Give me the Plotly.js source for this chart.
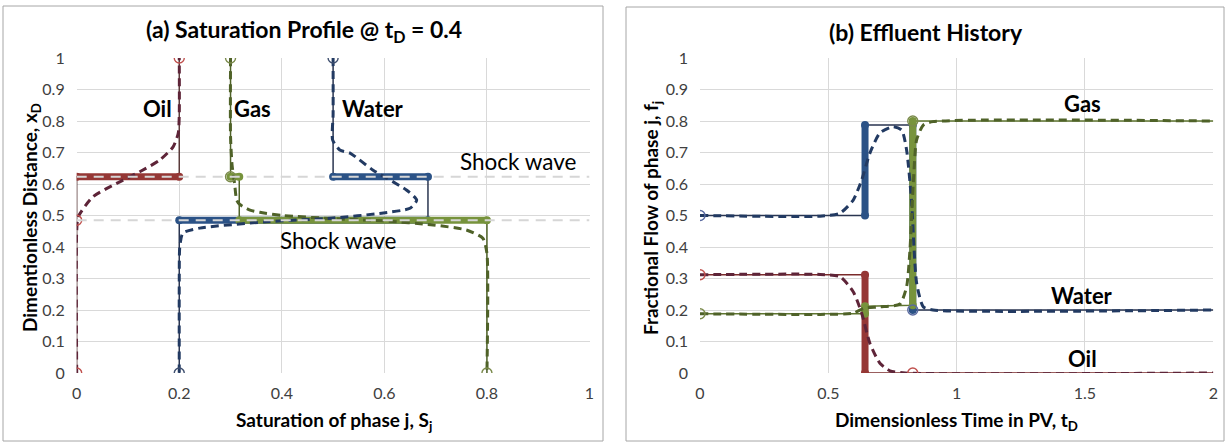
<!DOCTYPE html>
<html><head><meta charset="utf-8">
<script src="https://cdn.plot.ly/plotly-3.0.1.min.js"></script>
<style>html,body{margin:0;padding:0;background:#fff}#c{width:1225px;height:442px}</style>
</head><body><div id="c"></div>
<script>
// ---------- Panel (a): saturation profile, x = saturation S, y = distance xD ----------
var aOilExactS = [0, 0, 0, 0.2, 0.2];
var aOilExactX = [0, 0.485, 0.623, 0.623, 1];
var aOilShockS = [0, 0.2];
var aOilShockX = [0.623, 0.623];
var aOilNumS = [0, 0, 0.003, 0.032, 0.078, 0.123, 0.162, 0.188, 0.198, 0.2, 0.2];
var aOilNumX = [0, 0.45, 0.496, 0.56, 0.602, 0.639, 0.676, 0.718, 0.761, 0.82, 1];
var aOilMarkS = [0, 0, 0.2];
var aOilMarkX = [0, 0.485, 1];

var aGasExactS = [0.3, 0.3, 0.317, 0.317, 0.8, 0.8];
var aGasExactX = [1, 0.623, 0.623, 0.485, 0.485, 0];
var aGasShock1S = [0.3, 0.317];
var aGasShock1X = [0.623, 0.623];
var aGasShock2S = [0.317, 0.8];
var aGasShock2X = [0.485, 0.485];
var aGasNumS = [0.3, 0.3, 0.303, 0.308, 0.312, 0.318, 0.338, 0.357, 0.403, 0.5, 0.6, 0.695, 0.76, 0.792, 0.8, 0.8];
var aGasNumX = [1, 0.75, 0.66, 0.6, 0.549, 0.535, 0.517, 0.51, 0.5, 0.49, 0.483, 0.47, 0.454, 0.428, 0.38, 0];
var aGasMarkS = [0.3, 0.3, 0.8];
var aGasMarkX = [1, 0.623, 0];

var aWatExactS = [0.5, 0.5, 0.685, 0.685, 0.2, 0.2];
var aWatExactX = [1, 0.623, 0.623, 0.485, 0.485, 0];
var aWatShock1S = [0.5, 0.685];
var aWatShock1X = [0.623, 0.623];
var aWatShock2S = [0.2, 0.685];
var aWatShock2X = [0.485, 0.485];
var aWatNumS = [0.5, 0.5, 0.499, 0.513, 0.533, 0.578, 0.643, 0.663, 0.65, 0.598, 0.5, 0.37, 0.24, 0.207, 0.201, 0.2, 0.2];
var aWatNumX = [1, 0.82, 0.74, 0.708, 0.698, 0.644, 0.581, 0.549, 0.523, 0.508, 0.492, 0.48, 0.46, 0.444, 0.4, 0.3, 0];
var aWatMarkS = [0.5, 0.2];
var aWatMarkX = [1, 0];

var aShockLineS = [0, 1];
var aShockHigh = [0.623, 0.623];
var aShockLow = [0.485, 0.485];

// ---------- Panel (b): effluent history, x = tD, y = fractional flow ----------
var bWatExactT = [0, 0.643, 0.643, 0.829, 0.829, 2];
var bWatExactF = [0.5, 0.5, 0.787, 0.787, 0.2, 0.2];
var bWatShock1T = [0.643, 0.643];
var bWatShock1F = [0.5, 0.787];
var bWatShock2T = [0.829, 0.829];
var bWatShock2F = [0.787, 0.2];
var bWatNumT = [0, 0.468, 0.545, 0.597, 0.63, 0.662, 0.701, 0.752, 0.786, 0.805, 0.824, 0.844, 0.87, 0.908, 2];
var bWatNumF = [0.5, 0.498, 0.507, 0.549, 0.613, 0.698, 0.762, 0.782, 0.771, 0.708, 0.549, 0.286, 0.21, 0.2, 0.2];

var bOilExactT = [0, 0.643, 0.643, 2];
var bOilExactF = [0.312, 0.312, 0, 0];
var bOilShockT = [0.643, 0.643];
var bOilShockF = [0.312, 0];
var bOilNumT = [0, 0.468, 0.545, 0.597, 0.63, 0.662, 0.701, 0.74, 0.8, 2];
var bOilNumF = [0.312, 0.313, 0.306, 0.258, 0.19, 0.094, 0.031, 0.007, 0, 0];

var bGasExactT = [0, 0.643, 0.643, 0.829, 0.829, 2];
var bGasExactF = [0.188, 0.188, 0.212, 0.215, 0.8, 0.8];
var bGasShock1T = [0.643, 0.643];
var bGasShock1F = [0.188, 0.212];
var bGasShock2T = [0.829, 0.829];
var bGasShock2F = [0.215, 0.8];
var bGasNumT = [0, 0.468, 0.597, 0.637, 0.7, 0.779, 0.805, 0.818, 0.831, 0.844, 0.87, 0.908, 2];
var bGasNumF = [0.188, 0.186, 0.19, 0.205, 0.21, 0.219, 0.274, 0.39, 0.602, 0.74, 0.787, 0.798, 0.8];

var bMarkOilT = [0, 0.829];
var bMarkOilF = [0.312, 0];
var bMarkWatT = [0, 0.829];
var bMarkWatF = [0.5, 0.2];
var bMarkGasT = [0, 0.829];
var bMarkGasF = [0.188, 0.8];

var xTicksA = [0, 0.2, 0.4, 0.6, 0.8, 1];
var xTicksB = [0, 0.5, 1, 1.5, 2];
var yTicks = [0, 0.1, 0.2, 0.3, 0.4, 0.5, 0.6, 0.7, 0.8, 0.9, 1];

// ---------- styles ----------
var OIL = '#953735', OILD = '#5e2438', OILM = '#c0504d';
var GAS = '#77933c', GASD = '#4f6228', GASM = '#7a8a4b';
var WAT = '#2b5286', WATD = '#223a62', WATM = '#3f4f6f';

function thin(x, y, c, ax) { return {x: x, y: y, mode: 'lines', line: {color: c, width: 1.5}, xaxis: ax[0], yaxis: ax[1], hoverinfo: 'skip'}; }
function thick(x, y, c, ax) { return {x: x, y: y, mode: 'lines+markers', line: {color: c, width: 7}, marker: {size: 8, color: c}, xaxis: ax[0], yaxis: ax[1], hoverinfo: 'skip'}; }
function dash(x, y, c, ax) { return {x: x, y: y, mode: 'lines', line: {color: c, width: 3, dash: '8px,5px', shape: 'spline', smoothing: 0.6}, xaxis: ax[0], yaxis: ax[1], hoverinfo: 'skip'}; }
function marks(x, y, c, ax) { return {x: x, y: y, mode: 'markers', marker: {symbol: 'circle-open', size: 10, color: c, line: {width: 1.4, color: c}}, xaxis: ax[0], yaxis: ax[1], hoverinfo: 'skip'}; }

var A = ['x', 'y'], B = ['x2', 'y2'];
var traces = [
  thin(aOilExactS, aOilExactX, '#5a3a3a', A),
  thin(aGasExactS, aGasExactX, '#4f6228', A),
  thin(aWatExactS, aWatExactX, '#2a3550', A),
  thick(aWatShock2S, aWatShock2X, WAT, A),
  thick(aWatShock1S, aWatShock1X, WAT, A),
  thick(aOilShockS, aOilShockX, OIL, A),
  thick(aGasShock2S, aGasShock2X, GAS, A),
  thick(aGasShock1S, aGasShock1X, GAS, A),
  dash(aOilNumS, aOilNumX, OILD, A),
  dash(aGasNumS, aGasNumX, GASD, A),
  dash(aWatNumS, aWatNumX, WATD, A),
  marks(aOilMarkS, aOilMarkX, OILM, A),
  marks(aGasMarkS, aGasMarkX, GASM, A),
  marks(aWatMarkS, aWatMarkX, WATM, A),
  {x: aShockLineS, y: aShockHigh, mode: 'lines', line: {color: '#d6d6d6', width: 2, dash: '10px,7px'}, xaxis: 'x', yaxis: 'y', hoverinfo: 'skip'},
  {x: aShockLineS, y: aShockLow, mode: 'lines', line: {color: '#d6d6d6', width: 2, dash: '10px,7px'}, xaxis: 'x', yaxis: 'y', hoverinfo: 'skip'},

  thin(bOilExactT, bOilExactF, '#7a2a2a', B),
  thin(bWatExactT, bWatExactF, '#2a3550', B),
  thin(bGasExactT, bGasExactF, '#5f7530', B),
  thick(bWatShock1T, bWatShock1F, WAT, B),
  thick(bWatShock2T, bWatShock2F, WAT, B),
  thick(bOilShockT, bOilShockF, OIL, B),
  thick(bGasShock1T, bGasShock1F, GAS, B),
  thick(bGasShock2T, bGasShock2F, GAS, B),
  dash(bOilNumT, bOilNumF, OILD, B),
  dash(bWatNumT, bWatNumF, WATD, B),
  dash(bGasNumT, bGasNumF, GASD, B),
  marks(bMarkOilT, bMarkOilF, OILM, B),
  marks(bMarkWatT, bMarkWatF, '#5a6aa0', B),
  marks(bMarkGasT, bMarkGasF, GASM, B)
];

var W = 1225, H = 442;
function px(v) { return v / W; }
function py(v) { return 1 - v / H; }
var FONT = 'Lato, "Open Sans", sans-serif';
var tickFont = {family: FONT, size: 16, color: '#404040'};

function xax(dom, ticks, rng, anchor) {
  return {domain: dom, range: rng, tickvals: ticks, ticktext: ticks.map(String), showgrid: true, gridcolor: '#d9d9d9', gridwidth: 1,
          zeroline: false, showline: false, ticks: '', tickfont: tickFont, ticklabelstandoff: 9, anchor: anchor, fixedrange: true};
}
function yax(ticks, anchor) {
  return {domain: [py(373), py(58)], range: [0, 1], tickvals: ticks, ticktext: ticks.map(String), showgrid: true, gridcolor: '#d9d9d9', gridwidth: 1,
          zeroline: false, showline: false, ticks: '', tickfont: tickFont, ticklabelstandoff: 11, anchor: anchor, fixedrange: true};
}

var ann = [];
function txt(t, x, y, size, bold, opts) {
  var a = {text: bold ? '<b>' + t + '</b>' : t, xref: 'paper', yref: 'paper', x: px(x), y: py(y), showarrow: false,
           font: {family: FONT, size: size, color: '#000'}, xanchor: 'center', yanchor: 'middle'};
  for (var k in (opts || {})) a[k] = opts[k];
  ann.push(a);
}
txt('(a) Saturation Profile @ t<sub>D</sub> = 0.4', 304, 31, 23, true);
txt('(b) Effluent History', 926, 32, 23, true);
txt('Saturation of phase j, S<sub>j</sub>', 334, 421, 19, true);
txt('Dimensionless Time in PV, t<sub>D</sub>', 956, 421, 19, true);
txt('Dimentionless Distance, x<sub>D</sub>', 31, 218, 19, true, {textangle: -90});
txt('Fractional Flow of phase j, f<sub>j</sub>', 652, 218, 19, true, {textangle: -90});

function dat(t, x, y, size, bold, xr, yr) {
  ann.push({text: bold ? '<b>' + t + '</b>' : t, xref: xr, yref: yr, x: x, y: y, showarrow: false,
            font: {family: FONT, size: size, color: '#000'}, xanchor: 'center', yanchor: 'middle'});
}
dat('Oil', 0.158, 0.84, 22, true, 'x', 'y');
dat('Gas', 0.343, 0.84, 22, true, 'x', 'y');
dat('Water', 0.578, 0.84, 22, true, 'x', 'y');
dat('Shock wave', 0.862, 0.67, 22.5, false, 'x', 'y');
dat('Shock wave', 0.511, 0.422, 22.5, false, 'x', 'y');
dat('Gas', 1.49, 0.855, 22, true, 'x2', 'y2');
dat('Water', 1.49, 0.245, 22, true, 'x2', 'y2');
dat('Oil', 1.49, 0.045, 22, true, 'x2', 'y2');

var layout = {
  width: W, height: H, margin: {l: 0, r: 0, t: 0, b: 0}, showlegend: false,
  paper_bgcolor: '#fff', plot_bgcolor: '#fff',
  xaxis: xax([px(76.7), px(589.5)], xTicksA, [0, 1], 'y'),
  yaxis: yax(yTicks, 'x'),
  xaxis2: xax([px(700), px(1213.3)], xTicksB, [0, 2], 'y2'),
  yaxis2: yax(yTicks, 'x2'),
  annotations: ann,
  shapes: [
    {type: 'rect', xref: 'paper', yref: 'paper', x0: px(3), x1: px(603), y0: py(441), y1: py(6), line: {color: '#a6a6a6', width: 1}},
    {type: 'rect', xref: 'paper', yref: 'paper', x0: px(626), x1: px(1224), y0: py(441), y1: py(7), line: {color: '#a6a6a6', width: 1}}
  ]
};
Plotly.newPlot('c', traces, layout, {staticPlot: true});
</script></body></html>
